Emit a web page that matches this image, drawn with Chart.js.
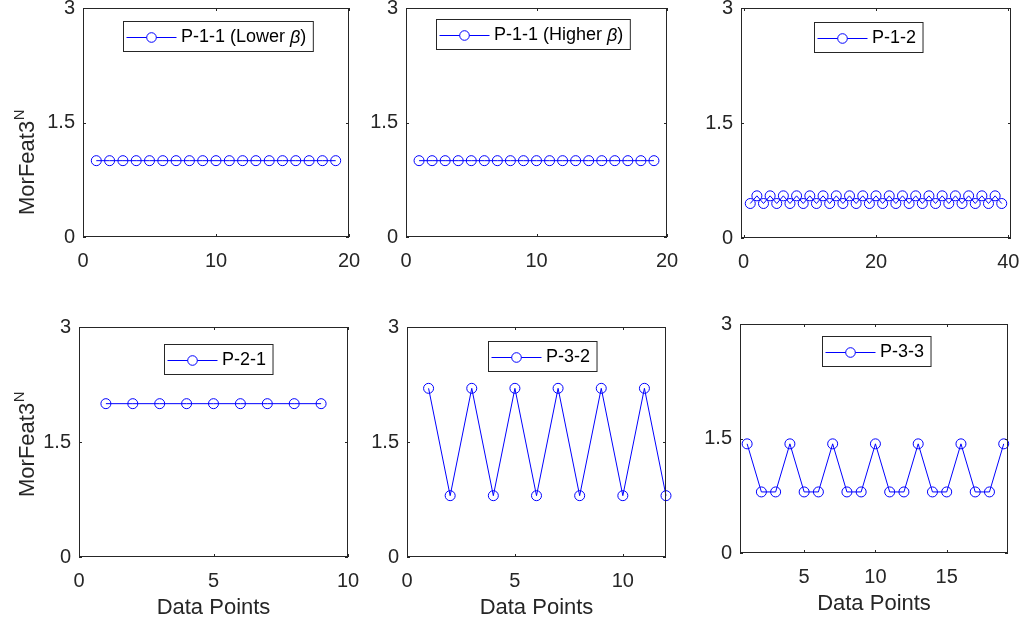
<!DOCTYPE html>
<html><head><meta charset="utf-8">
<script src="https://cdn.jsdelivr.net/npm/chart.js@4"></script>
<style>
html,body{margin:0;padding:0;background:#fff;width:1023px;height:624px;overflow:hidden;position:relative}
canvas{position:absolute}
</style></head><body>
<script>
// ---------- data ----------
const xP111 = [1,2,3,4,5,6,7,8,9,10,11,12,13,14,15,16,17,18,19];
const yP111Lower = [1,1,1,1,1,1,1,1,1,1,1,1,1,1,1,1,1,1,1];
const yP111Higher = [1,1,1,1,1,1,1,1,1,1,1,1,1,1,1,1,1,1,1];
const xP12 = [1,2,3,4,5,6,7,8,9,10,11,12,13,14,15,16,17,18,19,20,21,22,23,24,25,26,27,28,29,30,31,32,33,34,35,36,37,38,39];
const yP12 = [0.45,0.55,0.45,0.55,0.45,0.55,0.45,0.55,0.45,0.55,0.45,0.55,0.45,0.55,0.45,0.55,0.45,0.55,0.45,0.55,0.45,0.55,0.45,0.55,0.45,0.55,0.45,0.55,0.45,0.55,0.45,0.55,0.45,0.55,0.45,0.55,0.45,0.55,0.45];
const xP21 = [1,2,3,4,5,6,7,8,9];
const yP21 = [2,2,2,2,2,2,2,2,2];
const xP32 = [1,2,3,4,5,6,7,8,9,10,11,12];
const yP32 = [2.2,0.8,2.2,0.8,2.2,0.8,2.2,0.8,2.2,0.8,2.2,0.8];
const xP33 = [1,2,3,4,5,6,7,8,9,10,11,12,13,14,15,16,17,18,19];
const yP33 = [1.43,0.8,0.8,1.43,0.8,0.8,1.43,0.8,0.8,1.43,0.8,0.8,1.43,0.8,0.8,1.43,0.8,0.8,1.43];

const seriesLabels = ['P-1-1 (Lower β)','P-1-1 (Higher β)','P-1-2','P-2-1','P-3-2','P-3-3'];
const yTicks = [0,1.5,3];
const xTicksP111 = [0,10,20];
const xTicksP12 = [0,20,40];
const xTicksP21 = [0,5,10];
const xTicksP32 = [0,5,10];
const xTicksP33 = [5,10,15];
const yTitleText = 'MorFeat3';
const yTitleSup = 'N';
const xTitleText = 'Data Points';

// ---------- layout ----------
const FONT = '"Liberation Sans", Arial, Helvetica, sans-serif';
const TXT = '#262626';
const BLUE = '#0000ff';
const panels = [
  {x:xP111, y:yP111Lower,  label:seriesLabels[0], xr:[0,20],  xt:xTicksP111, box:[83,8,349,237],  legTop:13, legDx:2,  yTitleStart:215},
  {x:xP111, y:yP111Higher, label:seriesLabels[1], xr:[0,20],  xt:xTicksP111, box:[406,8,667,237], legTop:11, legDx:-4},
  {x:xP12,  y:yP12,        label:seriesLabels[2], xr:[-0.4,40.4], xt:xTicksP12, box:[741,8,1011,238], legTop:14, legDx:-8},
  {x:xP21,  y:yP21,        label:seriesLabels[3], xr:[0,10],  xt:xTicksP21, box:[79,327,348,557], legTop:17, legDx:5, yTitleStart:497, xTitle:true},
  {x:xP32,  y:yP32,        label:seriesLabels[4], xr:[0,12],  xt:xTicksP32, box:[407,327,666,557], legTop:14, legDx:6, xTitle:true},
  {x:xP33,  y:yP33,        label:seriesLabels[5], xr:[0.5,19.3], xt:xTicksP33, box:[740,324,1008,553], legTop:12, legDx:2, xTitle:true}
];
const PADL = 90, PADT = 20, PADR = 25, PADB = 75;

const matlabPlugin = {
  id:'matlab',
  afterDatasetsDraw(chart, args, o){
    const ctx = chart.ctx, a = chart.chartArea, xs = chart.scales.x, ys = chart.scales.y;
    ctx.save();
    ctx.strokeStyle = TXT; ctx.lineWidth = 1;
    ctx.strokeRect(a.left+0.5, a.top+0.5, a.right-a.left-1, a.bottom-a.top-1);
    ctx.beginPath();
    const tl = 3;
    o.xt.forEach(v=>{ const p = Math.round(xs.getPixelForValue(v))+0.5;
      ctx.moveTo(p,a.bottom); ctx.lineTo(p,a.bottom-tl);
      ctx.moveTo(p,a.top); ctx.lineTo(p,a.top+tl); });
    yTicks.forEach(v=>{ const p = Math.round(ys.getPixelForValue(v))+0.5;
      ctx.moveTo(a.left,p); ctx.lineTo(a.left+tl,p);
      ctx.moveTo(a.right,p); ctx.lineTo(a.right-tl,p); });
    ctx.stroke();
    ctx.restore();
  },
  afterDraw(chart, args, o){
    const ctx = chart.ctx, a = chart.chartArea;
    ctx.save();
    // legend
    const fs = 18;
    const parts = o.label.split('β');
    const normal = fs+'px '+FONT, ital = 'italic '+fs+'px '+FONT;
    let tw = 0;
    const segs = [];
    parts.forEach((p,i)=>{ segs.push({t:p,f:normal}); if(i<parts.length-1) segs.push({t:'β',f:ital}); });
    segs.forEach(s=>{ ctx.font = s.f; s.w = ctx.measureText(s.t).width; tw += s.w; });
    const lineLen = 50, bw = 3 + lineLen + 4.5 + tw + 7, bh = 30;
    const cx = (a.left+a.right)/2 + o.legDx;
    const bx = Math.round(cx - bw/2)+0.5, by = Math.round(a.top + o.legTop)+0.5;
    ctx.fillStyle = '#fff'; ctx.fillRect(bx, by, bw, bh);
    ctx.strokeStyle = TXT; ctx.lineWidth = 1; ctx.strokeRect(bx, by, bw, bh);
    const ly = by + bh/2 + 1;
    ctx.strokeStyle = BLUE; ctx.beginPath(); ctx.moveTo(bx+3, ly); ctx.lineTo(bx+3+lineLen, ly); ctx.stroke();
    ctx.fillStyle='#fff'; ctx.beginPath(); ctx.arc(bx+3+lineLen/2, ly, 4.8, 0, Math.PI*2); ctx.fill(); ctx.stroke();
    let tx = bx + 3 + lineLen + 4.5;
    ctx.fillStyle = '#000'; ctx.textBaseline = 'middle'; ctx.textAlign = 'left';
    segs.forEach(s=>{ ctx.font = s.f; ctx.fillText(s.t, tx, ly); tx += s.w; });
    // y title
    if (o.yTitleStart !== undefined) {
      const cvTop = o.box[1] - PADT, cvLeft = o.box[0] - PADL;
      ctx.translate(33.5 - cvLeft, o.yTitleStart - cvTop);
      ctx.rotate(-Math.PI/2);
      ctx.fillStyle = TXT; ctx.textBaseline = 'alphabetic'; ctx.textAlign = 'left';
      ctx.font = '22px '+FONT;
      ctx.fillText(yTitleText, 0, 0);
      const w = ctx.measureText(yTitleText).width;
      ctx.font = '15px '+FONT;
      ctx.fillText(yTitleSup, w + 0.5, -10);
      ctx.setTransform(1,0,0,1,0,0);
    }
    if (o.xTitle) {
      ctx.fillStyle = TXT; ctx.textBaseline = 'alphabetic'; ctx.textAlign = 'center';
      ctx.font = '22px '+FONT;
      ctx.fillText(xTitleText, (a.left+a.right)/2, a.bottom + 57);
    }
    ctx.restore();
  }
};

panels.forEach(p=>{
  const [L,T,R,B] = p.box;
  const cv = document.createElement('canvas');
  const w = (R-L)+PADL+PADR, h = (B-T)+PADT+PADB;
  cv.width = w; cv.height = h;
  cv.style.left = (L-PADL)+'px'; cv.style.top = (T-PADT)+'px';
  cv.style.width = w+'px'; cv.style.height = h+'px';
  document.body.appendChild(cv);
  new Chart(cv.getContext('2d'), {
    type:'line',
    data:{ datasets:[{
      label:p.label,
      data:p.x.map((xv,i)=>({x:xv, y:p.y[i]})),
      borderColor:BLUE, borderWidth:1, backgroundColor:'rgba(0,0,0,0)',
      pointRadius:5, pointBorderWidth:1, pointBorderColor:BLUE, pointBackgroundColor:'rgba(0,0,0,0)',
      pointHoverRadius:5, tension:0, clip:false, fill:false
    }]},
    options:{
      responsive:false, animation:false, devicePixelRatio:1, events:[],
      layout:{padding:{left:0, top:PADT, right:PADR, bottom:0}},
      plugins:{legend:{display:false}, tooltip:{enabled:false},
        matlab:{label:p.label, xt:p.xt, box:p.box, legTop:p.legTop, legDx:p.legDx, yTitleStart:p.yTitleStart, xTitle:p.xTitle}},
      scales:{
        x:{type:'linear', min:p.xr[0], max:p.xr[1],
          grid:{display:false, drawTicks:false}, border:{display:false},
          afterBuildTicks:s=>{ s.ticks = p.xt.map(v=>({value:v})); },
          afterFit:s=>{ s.height = PADB; },
          ticks:{color:TXT, font:{family:FONT, size:20}, padding:12, maxRotation:0, autoSkip:false, callback:v=>String(v)}},
        y:{type:'linear', min:0, max:3,
          grid:{display:false, drawTicks:false}, border:{display:false},
          afterBuildTicks:s=>{ s.ticks = yTicks.map(v=>({value:v})); },
          afterFit:s=>{ s.width = PADL; },
          ticks:{color:TXT, font:{family:FONT, size:20}, padding:8, autoSkip:false, callback:v=>String(v)}}
      }
    },
    plugins:[matlabPlugin]
  });
});
</script>
</body></html>
